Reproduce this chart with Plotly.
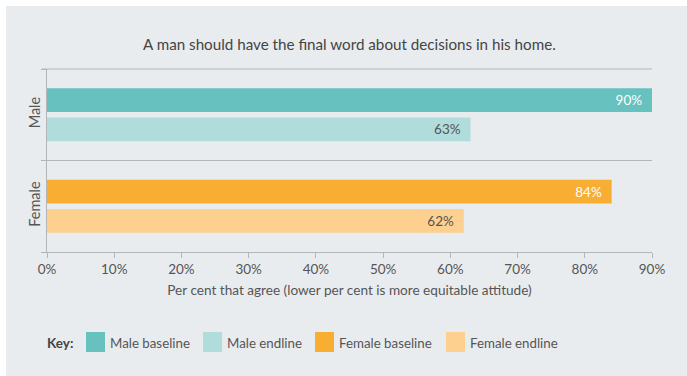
import plotly.graph_objects as go

# ---- data ----
categories = ["Female", "Male"]
series_names = ["Male baseline", "Male endline", "Female baseline", "Female endline"]
series_group = ["Male", "Male", "Female", "Female"]
series_values = [90, 63, 84, 62]
series_colors = ["#66c1bf", "#b0dcdb", "#f8ad33", "#fdd08f"]
label_colors = ["#ffffff", "#555555", "#ffffff", "#555555"]
series_offsets = [0.03, -0.29, 0.03, -0.29]
x_ticks = [0, 10, 20, 30, 40, 50, 60, 70, 80, 90]
x_ticklabels = [f"{t}%" for t in x_ticks]
title_text = "A man should have the final word about decisions in his home."
x_title = "Per cent that agree (lower per cent is more equitable attitude)"

W, H = 687, 376
L, R, T, B = 47, 35, 69, 124
PW, PH = W - L - R, H - T - B
FONT = "Lato"
LINE = "#b5b5b5"


def px_x(p):
    return (p - L) / PW


def px_y(p):
    return (H - B - p) / PH


fig = go.Figure()
for name, grp, val, col, lcol, off in zip(series_names, series_group, series_values,
                                          series_colors, label_colors, series_offsets):
    fig.add_trace(go.Bar(
        x=[val], y=[grp], orientation="h", name=name,
        marker=dict(color=col, line=dict(width=0)),
        width=0.26, offset=off,
        text=[f"{val}%\u00a0\u00a0"], textposition="inside", insidetextanchor="end",
        textfont=dict(color=lcol, size=13.5, family=FONT),
        showlegend=False, hoverinfo="skip",
    ))

shapes = [
    dict(type="rect", xref="paper", yref="paper", x0=px_x(6), x1=px_x(W + 50),
         y0=px_y(H + 50), y1=px_y(6),
         fillcolor="#e9ecef", line=dict(width=0), layer="below"),
    # top border of plot (boundary gridline at the top edge, with its tick)
    dict(type="line", xref="paper", yref="paper", x0=px_x(42), x1=1, y0=1, y1=1,
         line=dict(color=LINE, width=1)),
]
annotations = [dict(text=title_text, xref="paper", yref="paper", x=0.5, y=px_y(44),
                    xanchor="center", yanchor="middle", showarrow=False,
                    font=dict(size=15.2, color="#444444", family=FONT))]

# manual key
annotations.append(dict(text="<b>Key:</b>", xref="paper", yref="paper", x=px_x(45), y=px_y(343),
                        xanchor="left", yanchor="middle", showarrow=False,
                        font=dict(size=13.5, color="#444444", family=FONT)))
sw_x = [86, 203, 315, 446]
for sx, name, col in zip(sw_x, series_names, series_colors):
    shapes.append(dict(type="rect", xref="paper", yref="paper",
                       x0=px_x(sx), x1=px_x(sx + 19), y0=px_y(352), y1=px_y(332),
                       fillcolor=col, line=dict(width=0)))
    annotations.append(dict(text=name, xref="paper", yref="paper", x=px_x(sx + 22), y=px_y(343),
                            xanchor="left", yanchor="middle", showarrow=False,
                            font=dict(size=13.3, color="#555555", family=FONT)))

fig.update_layout(
    width=W, height=H, margin=dict(l=L, r=R, t=T, b=B, pad=0),
    paper_bgcolor="#ffffff", plot_bgcolor="#ffffff",
    barmode="overlay", showlegend=False,
    font=dict(family=FONT, color="#555555", size=13),
    shapes=shapes, annotations=annotations,
    xaxis=dict(range=[0, 90], tickvals=x_ticks, ticktext=x_ticklabels,
               showgrid=False, zeroline=False, showline=True,
               linecolor=LINE, linewidth=1,
               ticks="outside", ticklen=5, tickcolor=LINE,
               tickfont=dict(size=13.5, color="#555555", family=FONT),
               title=dict(text=x_title, standoff=9, font=dict(size=13.6, color="#555555", family=FONT)),
               fixedrange=True),
    yaxis=dict(type="category", categoryorder="array", categoryarray=categories,
               range=[-0.5, 1.5], tickson="boundaries", showgrid=True, gridcolor=LINE,
               gridwidth=1, zeroline=False, showline=True, linecolor=LINE, linewidth=1,
               ticks="outside", ticklen=5, tickcolor=LINE, tickangle=-90,
               tickfont=dict(size=14.5, color="#555555", family=FONT), fixedrange=True),
)

fig.write_html("out.html", config={"displayModeBar": False})
